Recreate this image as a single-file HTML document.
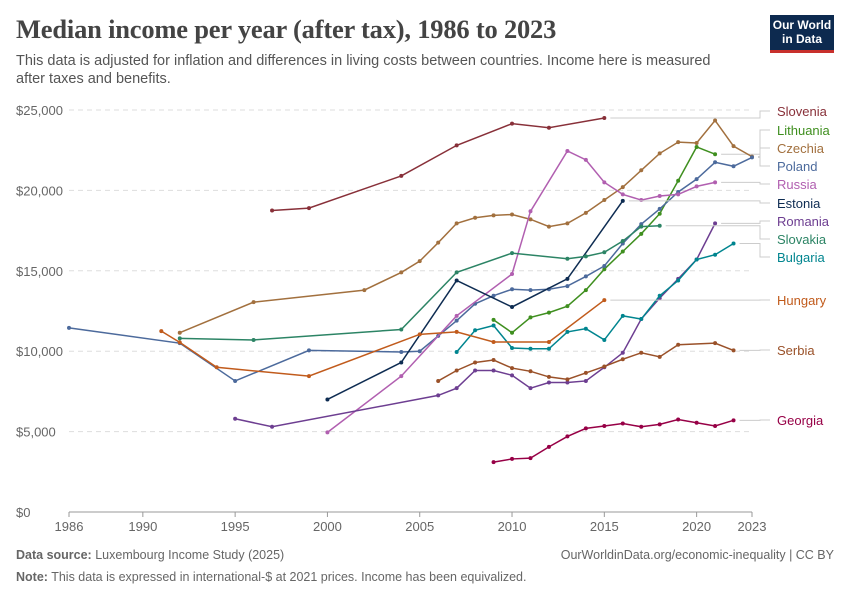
<!DOCTYPE html>
<html><head><meta charset="utf-8"><style>
body{margin:0;background:#fff;font-family:"Liberation Sans",sans-serif;}
#wrap{position:relative;width:850px;height:600px;overflow:hidden}
h1{position:absolute;left:16px;top:14px;margin:0;font-family:"Liberation Serif",serif;font-size:26.5px;font-weight:bold;color:#444;letter-spacing:-0.2px}
.sub{position:absolute;left:16px;top:52px;width:715px;font-size:14.5px;line-height:18px;color:#555}
.logo{position:absolute;left:770px;top:15px;width:64px;height:38px;background:#0d2a4f;color:#fff;font-size:12px;font-weight:bold;text-align:center;line-height:14px;padding-top:3px;box-sizing:border-box;border-bottom:3px solid #c8302c}
.foot{position:absolute;font-size:12.5px;color:#666}
</style></head><body><div id="wrap">
<h1>Median income per year (after tax), 1986 to 2023</h1>
<div class="sub">This data is adjusted for inflation and differences in living costs between countries. Income here is measured after taxes and benefits.</div>
<div class="logo">Our World<br>in Data</div>
<svg id="chart" width="850" height="600" style="position:absolute;left:0;top:0"></svg>
<div class="foot" style="left:16px;top:548px"><b>Data source:</b> Luxembourg Income Study (2025)</div>
<div class="foot" style="right:16px;top:548px">OurWorldinData.org/economic-inequality | CC BY</div>
<div class="foot" style="left:16px;top:570px"><b>Note:</b> This data is expressed in international-$ at 2021 prices. Income has been equivalized.</div>
</div>
<script>
const yTicks=[0,5000,10000,15000,20000,25000];
const xTicks=[1986,1990,1995,2000,2005,2010,2015,2020,2023];
const names=["Slovenia","Lithuania","Czechia","Poland","Russia","Estonia","Romania","Slovakia","Bulgaria","Hungary","Serbia","Georgia"];
const colors=["#883039","#3f8f1f","#a2703e","#4c6a9c","#b15fb0","#0e2c52","#6d3e91","#2c8465","#00858f","#c15b1c","#9a5129","#970046"];
const labelY=[111,130,148,166,184,203,221,239,257,300,350,420];
const years=[
[1997,1999,2004,2007,2010,2012,2015],
[2009,2010,2011,2012,2013,2014,2015,2016,2017,2018,2019,2020,2021],
[1992,1996,2002,2004,2005,2006,2007,2008,2009,2010,2011,2012,2013,2014,2015,2016,2017,2018,2019,2020,2021,2022,2023],
[1986,1992,1995,1999,2004,2005,2006,2007,2008,2009,2010,2011,2012,2013,2014,2015,2016,2017,2018,2019,2020,2021,2022,2023],
[2000,2004,2007,2010,2011,2013,2014,2015,2016,2017,2018,2019,2020,2021],
[2000,2004,2007,2010,2013,2016],
[1995,1997,2006,2007,2008,2009,2010,2011,2012,2013,2014,2015,2016,2017,2018,2019,2020,2021],
[1992,1996,2004,2007,2010,2013,2014,2015,2016,2017,2018],
[2007,2008,2009,2010,2011,2012,2013,2014,2015,2016,2017,2018,2019,2020,2021,2022],
[1991,1992,1994,1999,2005,2007,2009,2012,2015],
[2006,2007,2008,2009,2010,2011,2012,2013,2014,2015,2016,2017,2018,2019,2021,2022],
[2009,2010,2011,2012,2013,2014,2015,2016,2017,2018,2019,2020,2021,2022]];
const values=[
[18750,18900,20900,22800,24150,23900,24500],
[11950,11150,12100,12400,12800,13800,15100,16200,17300,18550,20600,22700,22250],
[11150,13050,13800,14900,15600,16750,17950,18300,18450,18500,18200,17750,17950,18600,19400,20200,21250,22300,23000,22950,24350,22750,22100],
[11450,10500,8150,10050,9950,10000,10950,11900,12950,13450,13850,13800,13850,14050,14650,15300,16700,17900,18850,19900,20700,21750,21500,22050],
[4950,8450,12200,14800,18700,22450,21900,20500,19750,19400,19650,19750,20250,20500],
[7000,9300,14400,12750,14500,19350],
[5800,5300,7250,7700,8800,8800,8500,7700,8050,8050,8150,9000,9900,12000,13300,14500,15700,17950],
[10800,10700,11350,14900,16100,15750,15900,16150,16850,17750,17800],
[9950,11300,11600,10200,10150,10150,11200,11400,10700,12200,12000,13450,14400,15700,16000,16700],
[11250,10550,9000,8450,11050,11200,10570,10570,13180],
[8150,8800,9300,9450,8950,8750,8400,8250,8650,9050,9500,9900,9650,10400,10500,10050],
[3100,3300,3350,4050,4700,5200,5350,5500,5300,5450,5750,5550,5350,5700]];
const svg=document.getElementById('chart');const NS='http://www.w3.org/2000/svg';
const X=y=>69+(y-1986)*(752-69)/37, Y=v=>512-v*(512-110)/25000;
function mk(t,a){const e=document.createElementNS(NS,t);for(const k in a)e.setAttribute(k,a[k]);svg.appendChild(e);return e;}
yTicks.forEach(v=>{
 const l=mk('line',{x1:69,x2:752,y1:Y(v),y2:Y(v),stroke:v?'#ddd':'#999','stroke-dasharray':v?'5,4':'none'});
 
 const t=mk('text',{x:16,y:Y(v)+5,'font-size':13,fill:'#666'});t.textContent='$'+v.toLocaleString('en-US');
 
});
xTicks.forEach(y=>{
 const l=mk('line',{x1:X(y),x2:X(y),y1:512,y2:517,stroke:'#999'});
 
 const t=mk('text',{x:X(y),y:531,'font-size':13,fill:'#666','text-anchor':'middle'});t.textContent=y;
 
});
names.forEach((n,i)=>{
 const pts=years[i].map((y,j)=>X(y)+','+Y(values[i][j])).join(' ');
 const p=mk('polyline',{points:pts,fill:'none',stroke:colors[i],'stroke-width':1.5});
 
 years[i].forEach((y,j)=>{const c=mk('circle',{cx:X(y),cy:Y(values[i][j]),r:2,fill:colors[i]});
  });
 const ly=Y(values[i][values[i].length-1]);
 const cn=mk('polyline',{points:`${X(years[i][years[i].length-1])+6},${ly} 760,${ly} 760,${labelY[i]} 770,${labelY[i]}`,fill:'none',stroke:'#ccc'});
 
 const t=mk('text',{x:777,y:labelY[i]+5,'font-size':13,fill:colors[i]});t.textContent=n;
 
});
</script></body></html>
